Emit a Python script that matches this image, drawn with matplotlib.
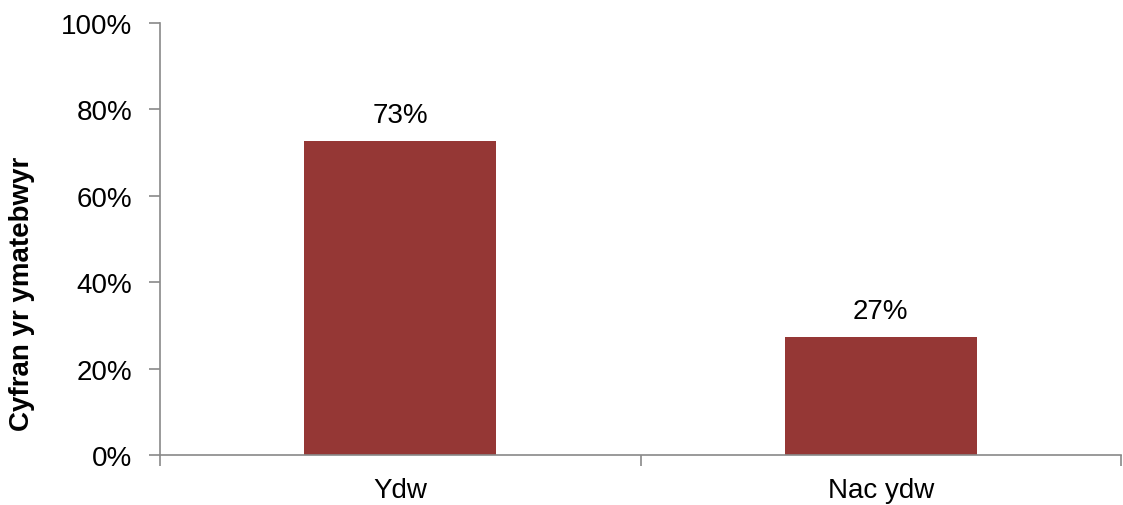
import matplotlib.pyplot as plt
import matplotlib.ticker as ticker

categories = ['Ydw', 'Nac ydw']
values = [72.7, 27.3]
labels = ['73%', '27%']

plt.rcParams['font.family'] = ['Liberation Sans', 'DejaVu Sans']

fig = plt.figure(figsize=(11.23, 5.06), dpi=100)
ax = fig.add_axes([160 / 1123, 1 - 456 / 506, 961 / 1123, (456 - 24) / 506])

x = [0.5, 1.5]
ax.bar(x, values, width=0.4, color='#953735')
for xi, v, lab in zip(x, values, labels):
    ax.text(xi, v + 3.0, lab, ha='center', va='bottom', fontsize=20)

ax.set_xlim(0, 2)
ax.set_ylim(0, 100)
ax.yaxis.set_major_locator(ticker.MultipleLocator(20))
ax.yaxis.set_major_formatter(ticker.FuncFormatter(lambda v, p: '%d%%' % v))
ax.set_xticks([0, 1, 2])
ax.set_xticklabels([])
ax.set_xticks(x, minor=True)
ax.set_xticklabels(categories, minor=True)
ax.tick_params(axis='x', which='minor', length=0, labelsize=20, pad=16)
ax.tick_params(axis='x', which='major', length=8, color='#898989', width=1.2)
ax.tick_params(axis='y', length=8, color='#898989', width=1.2, labelsize=20, pad=12)

for s in ['top', 'right']:
    ax.spines[s].set_visible(False)
for s in ['left', 'bottom']:
    ax.spines[s].set_color('#898989')
    ax.spines[s].set_linewidth(1.2)

ax.set_ylabel('Cyfran yr ymatebwyr', fontsize=20, fontweight='bold', va='center')
ax.yaxis.set_label_coords(-0.144, 0.375)

plt.savefig('out.png', dpi=100)
